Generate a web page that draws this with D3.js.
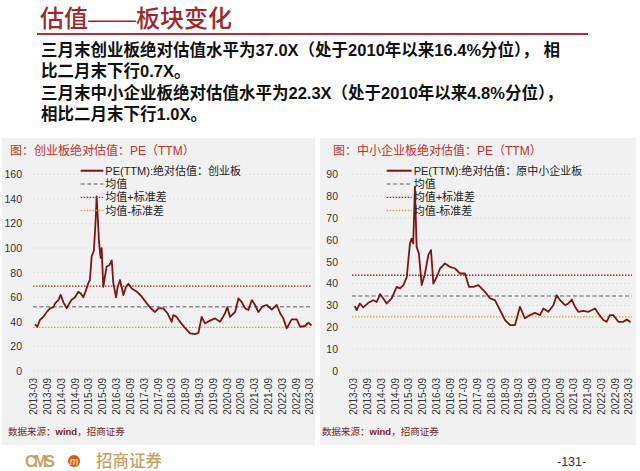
<!DOCTYPE html>
<html>
<head>
<meta charset="utf-8">
<script src="https://cdn.jsdelivr.net/npm/d3@7"></script>
<style>
body { margin: 0; background: #fff; }
svg text { font-family: "Liberation Sans", "Noto Sans CJK SC", sans-serif; }
</style>
</head>
<body>
<svg id="chart" width="640" height="471"></svg>
<script>
// ---- data ----
var xTickLabels = ["2013-03","2013-09","2014-03","2014-09","2015-03","2015-09","2016-03","2016-09",
	"2017-03","2017-09","2018-03","2018-09","2019-03","2019-09","2020-03","2020-09",
	"2021-03","2021-09","2022-03","2022-09","2023-03"];

// 创业板
var gemDates = ["2013-03-23","2013-04-23","2013-05-28","2013-07-11","2013-08-26","2013-10-09","2013-11-22","2013-12-14",
	"2014-01-27","2014-02-26","2014-04-02","2014-05-17","2014-06-20","2014-07-22","2014-09-05","2014-10-18","2014-11-19","2014-12-23",
	"2015-01-28","2015-02-27","2015-03-20","2015-04-12","2015-05-12","2015-06-04","2015-06-17","2015-07-04","2015-07-17","2015-08-09",
	"2015-08-22","2015-09-13","2015-10-05","2015-10-27","2015-12-02",
	"2016-01-03","2016-01-24","2016-02-29","2016-03-22","2016-04-22","2016-06-05","2016-07-10","2016-08-10","2016-09-24","2016-11-30",
	"2017-02-05","2017-04-10","2017-06-02","2017-07-28","2017-09-11","2017-11-16",
	"2018-01-09","2018-03-06","2018-03-27","2018-05-11","2018-06-24","2018-08-30","2018-11-04",
	"2019-01-10","2019-02-23","2019-04-07","2019-05-20","2019-07-26","2019-10-01","2019-12-06",
	"2020-02-11","2020-03-11","2020-04-16","2020-06-22","2020-08-05","2020-09-19","2020-11-02","2020-12-15",
	"2021-01-30","2021-03-13","2021-04-26","2021-06-20","2021-08-15","2021-10-20","2021-12-26",
	"2022-02-08","2022-03-22","2022-05-06","2022-07-11","2022-09-16","2022-10-30",
	"2023-01-05","2023-02-18","2023-03-31"];
var gemPE = [38,36,41.5,44,48,51,52,55,
	57.7,62,56,51,55,58,60,64.5,63,60,
	65.8,71.5,74,93,98,122.8,142,122.8,106,92,
	100,68.5,76.7,85,86,
	90,71.5,60,68.5,74,61.8,68.5,71,67.2,64.5,
	60.4,55,51,48,51,51,
	47,40,45.5,44,40,35,30.6,
	30,31,44,38.7,41,42.8,40,
	47,52,44,48,59,56,51,49.6,
	57.7,53.7,48,52.5,53.7,50,53.7,
	47,42.8,34.7,42,42,36,
	36.6,39.3,37];
var gemBands = [52.3, 69.1, 35.5];   // 均值, 均值+标准差, 均值-标准差
var gemYTicks = [0,20,40,60,80,100,120,140,160];

// 中小企业板
var smeDates = ["2013-03-20","2013-04-15","2013-05-28","2013-07-11","2013-09-17","2013-11-22",
	"2014-01-07","2014-02-20","2014-04-03","2014-05-18","2014-07-23","2014-09-29","2014-11-12","2014-12-25",
	"2015-02-09","2015-03-23","2015-04-15","2015-05-06","2015-05-28","2015-06-20","2015-07-20","2015-08-26","2015-10-09","2015-11-22","2015-12-28",
	"2016-01-28","2016-03-13","2016-04-26","2016-07-01","2016-09-06","2016-11-12",
	"2017-01-17","2017-03-23","2017-05-15","2017-07-11","2017-09-17","2017-12-15",
	"2018-02-20","2018-04-25","2018-07-01","2018-09-06","2018-11-12",
	"2019-01-17","2019-03-23","2019-05-28","2019-08-03","2019-10-09","2019-12-14",
	"2020-01-28","2020-04-03","2020-06-09","2020-07-23","2020-09-06","2020-11-11","2020-12-25",
	"2021-02-09","2021-03-23","2021-05-06","2021-07-11","2021-09-17","2021-12-14",
	"2022-01-27","2022-04-03","2022-05-17","2022-06-30","2022-08-14","2022-10-19","2022-12-25",
	"2023-02-09","2023-03-31"];
var smePE = [29.7,27.9,30.9,29.1,31.2,32.4,
	31.6,35.2,33.2,30.9,33.2,38.5,37.8,39.3,
	43,58.3,60.6,58.3,84.2,56.8,53.7,39.3,44.6,53,55.3,
	40,43,46.9,49.2,47.6,46.9,
	44.6,44.6,38.5,38.5,39.3,36.2,
	33.2,32.4,27.9,23.3,21,
	21,29.4,24.1,25.6,26.6,25.6,
	28.6,27.1,30.1,34.7,32.4,30.1,30.9,
	32.7,29.4,27.1,27.5,27.1,28.6,
	26.3,23.3,22.5,25.6,25.6,22.5,22.5,
	23.6,22.3];
var smeBands = [34.3, 43.8, 24.8];
var smeYTicks = [0,10,20,30,40,50,60,70,80,90];

var bandLabels = ["均值", "均值+标准差", "均值-标准差"];

var parseDay = d3.timeParse("%Y-%m-%d");
var parseMonth = d3.timeParse("%Y-%m");

var svg = d3.select("#chart");
var lineColor = "#7a1518";
var bandStyles = [
	{stroke: "#8e8e8e", width: 1.6, dash: "4,2.5"},
	{stroke: "#a3262a", width: 1.3, dash: "1.5,1.5"},
	{stroke: "#d8a441", width: 1.3, dash: "1.5,1.5"}
];

// ---- page header ----
svg.append("text")
	.attr("x", 40).attr("y", 27)
	.attr("fill", "#9c2a2d")
	.style("font-size", "24px")
	.style("font-weight", 500)
	.text("估值——板块变化");

svg.append("line")
	.attr("x1", 37).attr("x2", 588)
	.attr("y1", 34).attr("y2", 34)
	.attr("stroke", "#a8323a")
	.attr("stroke-width", 1.8);

var paragraph = [
	"三月末创业板绝对估值水平为37.0X（处于2010年以来16.4%分位）， 相",
	"比二月末下行0.7X。",
	"三月末中小企业板绝对估值水平为22.3X（处于2010年以来4.8%分位），",
	"相比二月末下行1.0X。"
];
var paraY = [56, 77, 99, 120];
svg.selectAll(".para")
	.data(paragraph)
	.enter().append("text")
	.attr("class", "para")
	.attr("x", 41)
	.attr("y", function(d, i) { return paraY[i]; })
	.attr("fill", "#111")
	.style("font-size", "16.5px")
	.style("font-weight", "bold")
	.text(function(d) { return d; });

// ---- one chart panel ----
function drawPanel(p) {
	var g = svg.append("g");

	g.append("rect")
		.attr("x", p.left).attr("y", 138)
		.attr("width", p.width).attr("height", 307)
		.attr("fill", "#f1f1f1");

	g.append("text")
		.attr("x", p.titleX).attr("y", 155)
		.attr("fill", "#c0302a")
		.style("font-size", "12px")
		.text(p.title);

	var x = d3.scaleTime()
		.domain([parseMonth("2013-03"), parseMonth("2023-03")])
		.range(p.xRange);
	var y = d3.scaleLinear()
		.domain([0, p.yMax])
		.range([371, 174.3]);

	// grid
	g.selectAll(".grid")
		.data(p.yTicks)
		.enter().append("line")
		.attr("x1", p.gridX[0]).attr("x2", p.gridX[1])
		.attr("y1", function(d) { return y(d); })
		.attr("y2", function(d) { return y(d); })
		.attr("stroke", "#d9d9d9")
		.attr("stroke-width", 0.8)
		.attr("stroke-dasharray", "2,2");

	// mean / +std / -std
	g.selectAll(".band")
		.data(p.bands)
		.enter().append("line")
		.attr("x1", p.gridX[0]).attr("x2", p.gridX[1])
		.attr("y1", function(d) { return y(d); })
		.attr("y2", function(d) { return y(d); })
		.attr("stroke", function(d, i) { return bandStyles[i].stroke; })
		.attr("stroke-width", function(d, i) { return bandStyles[i].width; })
		.attr("stroke-dasharray", function(d, i) { return bandStyles[i].dash; });

	// y axis
	var yAxis = g.append("g")
		.attr("transform", "translate(" + p.yAxisX + ",0)")
		.call(d3.axisLeft(y).tickValues(p.yTicks).tickSize(0).tickPadding(3));
	yAxis.select(".domain").remove();
	yAxis.selectAll("text")
		.attr("fill", "#333")
		.style("font-size", "10.5px")
		.style("font-family", "Liberation Sans");

	// x axis, labels rotated
	var xAxis = g.append("g")
		.attr("transform", "translate(0,371)")
		.call(d3.axisBottom(x)
			.tickValues(xTickLabels.map(parseMonth))
			.tickFormat(d3.timeFormat("%Y-%m"))
			.tickSize(0));
	xAxis.select(".domain").remove();
	xAxis.selectAll("text")
		.attr("transform", "rotate(-90)")
		.attr("x", -7).attr("y", 0).attr("dy", "0.35em")
		.style("text-anchor", "end")
		.attr("fill", "#333")
		.style("font-size", "10px")
		.style("font-family", "Liberation Sans");

	// PE line
	var line = d3.line()
		.x(function(d) { return x(d.date); })
		.y(function(d) { return y(d.value); });
	var series = p.dates.map(function(d, i) { return {date: parseDay(d), value: p.values[i]}; });
	g.append("path")
		.datum(series)
		.attr("fill", "none")
		.attr("stroke", lineColor)
		.attr("stroke-width", 1.8)
		.attr("stroke-linejoin", "round")
		.attr("d", line);

	// legend
	var rows = [170.7, 184, 197.3, 210.5];
	var labels = [p.seriesLabel].concat(bandLabels);
	var styles = [{stroke: lineColor, width: 2, dash: null}].concat(bandStyles);
	var lg = g.selectAll(".legend")
		.data(labels)
		.enter().append("g");
	lg.append("line")
		.attr("x1", p.legendX[0]).attr("x2", p.legendX[1])
		.attr("y1", function(d, i) { return rows[i]; })
		.attr("y2", function(d, i) { return rows[i]; })
		.attr("stroke", function(d, i) { return styles[i].stroke; })
		.attr("stroke-width", function(d, i) { return styles[i].width; })
		.attr("stroke-dasharray", function(d, i) { return styles[i].dash; });
	lg.append("text")
		.attr("x", p.legendX[1] + 2)
		.attr("y", function(d, i) { return rows[i] + 4; })
		.attr("fill", "#222")
		.style("font-size", "11px")
		.text(function(d) { return d; });

	// source
	var src = g.append("text")
		.attr("x", p.srcX).attr("y", 435)
		.attr("fill", "#7a1c1c")
		.style("font-size", "9.5px");
	src.append("tspan").text("数据来源：");
	src.append("tspan").style("font-weight", "bold").text("wind");
	src.append("tspan").text("，招商证券");
}

drawPanel({
	left: 2, width: 313, titleX: 10,
	title: "图：创业板绝对估值：PE（TTM）",
	xRange: [33.3, 309.3], gridX: [33, 312], yAxisX: 25,
	yMax: 160, yTicks: gemYTicks,
	dates: gemDates, values: gemPE, bands: gemBands,
	seriesLabel: "PE(TTM):绝对估值：创业板",
	legendX: [80.7, 103.3], srcX: 8
});

drawPanel({
	left: 320, width: 316, titleX: 333,
	title: "图：中小企业板绝对估值：PE（TTM）",
	xRange: [353.3, 628.3], gridX: [352, 632], yAxisX: 341,
	yMax: 90, yTicks: smeYTicks,
	dates: smeDates, values: smePE, bands: smeBands,
	seriesLabel: "PE(TTM):绝对估值：原中小企业板",
	legendX: [386.7, 411.7], srcX: 322
});

// ---- footer ----
svg.append("text")
	.attr("x", 25).attr("y", 467)
	.attr("fill", "#c8a165")
	.attr("textLength", 30)
	.style("font-size", "16px")
	.style("font-weight", "bold")
	.text("CMS");
svg.append("circle")
	.attr("cx", 74).attr("cy", 461).attr("r", 6)
	.attr("fill", "#dc5520");
svg.append("text")
	.attr("x", 74).attr("y", 464.5)
	.attr("text-anchor", "middle")
	.attr("fill", "#f6d16a")
	.style("font-size", "10px")
	.style("font-weight", "bold")
	.style("font-style", "italic")
	.text("m");
svg.append("text")
	.attr("x", 96).attr("y", 467)
	.attr("fill", "#c8a165")
	.style("font-size", "16.5px")
	.style("font-weight", 500)
	.text("招商证券");
svg.append("text")
	.attr("x", 557).attr("y", 466)
	.attr("fill", "#333")
	.style("font-size", "12.5px")
	.text("-131-");
</script>
</body>
</html>
